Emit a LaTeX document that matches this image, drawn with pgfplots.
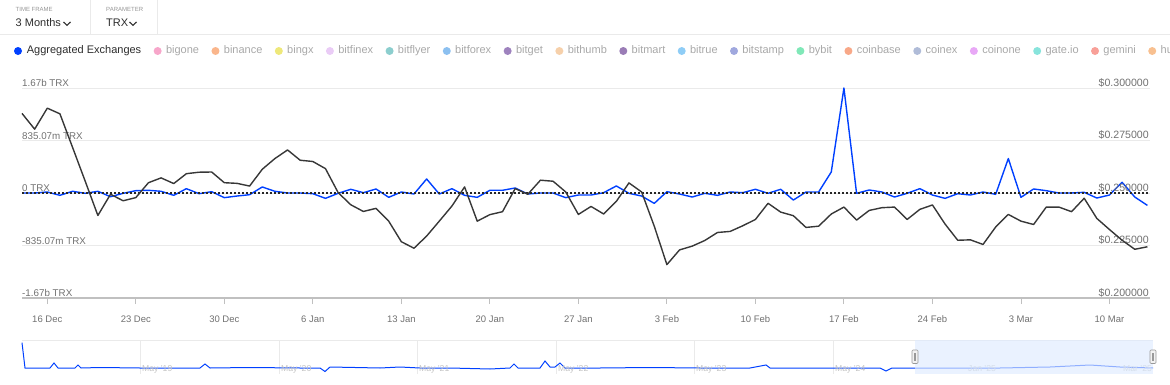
\documentclass[border=0pt]{standalone}
\usepackage{pgfplots}
\pgfplotsset{compat=1.18}
\usepackage{fontspec}
\setmainfont{Liberation Sans}
\usetikzlibrary{positioning}

\definecolor{bl}{RGB}{0,64,255}
\definecolor{pr}{RGB}{55,55,55}
\definecolor{grd}{RGB}{234,234,234}
\definecolor{axl}{RGB}{192,192,192}
\definecolor{lbl}{RGB}{112,112,112}
\definecolor{leg}{RGB}{168,168,168}
\definecolor{hdr}{RGB}{150,150,150}
\definecolor{dark}{RGB}{45,45,45}
\definecolor{navl}{RGB}{195,195,195}
\definecolor{sel}{RGB}{222,235,255}
\definecolor{c1}{RGB}{247,166,202}
\definecolor{c2}{RGB}{250,182,140}
\definecolor{c3}{RGB}{238,232,122}
\definecolor{c4}{RGB}{234,204,246}
\definecolor{c5}{RGB}{140,206,206}
\definecolor{c6}{RGB}{140,192,240}
\definecolor{c7}{RGB}{158,130,190}
\definecolor{c8}{RGB}{246,208,170}
\definecolor{c9}{RGB}{154,124,182}
\definecolor{c10}{RGB}{143,205,246}
\definecolor{c11}{RGB}{160,168,222}
\definecolor{c12}{RGB}{128,232,184}
\definecolor{c13}{RGB}{248,168,136}
\definecolor{c14}{RGB}{176,188,216}
\definecolor{c15}{RGB}{232,168,246}
\definecolor{c16}{RGB}{136,228,220}
\definecolor{c17}{RGB}{248,160,152}
\definecolor{c18}{RGB}{248,192,144}

\pgfplotstableread{
day flow
-2 0
-1 0
0 16
1 -37
2 27
3 -5
4 27
5 -59
6 -5
7 37
8 43
9 27
10 -37
11 69
12 -11
13 21
14 -74
15 -48
16 -27
17 96
18 27
19 0
20 0
21 -11
22 -85
23 -5
24 59
25 5
26 64
27 -69
28 16
29 -16
30 223
31 -16
32 69
33 -37
34 -69
35 43
36 43
37 80
38 -16
39 0
40 0
41 -74
42 -32
43 -32
44 5
45 112
46 -5
47 -48
48 -165
49 21
50 -16
51 -64
52 -5
53 -37
54 16
55 5
56 59
57 -5
58 59
59 -112
60 16
61 16
62 335
63 1670
64 -5
65 48
66 16
67 -64
68 -5
69 69
70 -32
71 -85
72 -11
73 -32
74 16
75 -21
76 548
77 -69
78 64
79 37
80 0
81 0
82 11
83 -80
84 -32
85 170
86 -64
87 -197
}\flowdata

\pgfplotstableread{
day price
-2 0.2879
-1 0.2804
0 0.2904
1 0.2877
2 0.2717
3 0.2556
4 0.2393
5 0.2494
6 0.2463
7 0.2478
8 0.2549
9 0.2572
10 0.2545
11 0.2592
12 0.2599
13 0.2600
14 0.2549
15 0.2546
16 0.2533
17 0.2613
18 0.2664
19 0.2705
20 0.2656
21 0.2650
22 0.2616
23 0.2502
24 0.2444
25 0.2412
26 0.2427
27 0.2366
28 0.2268
29 0.2237
30 0.2295
31 0.2366
32 0.2438
33 0.2529
34 0.2366
35 0.2397
36 0.2411
37 0.2521
38 0.2494
39 0.2561
40 0.2556
41 0.2505
42 0.2398
43 0.2436
44 0.2400
45 0.2460
46 0.2548
47 0.2505
48 0.2342
49 0.2159
50 0.2229
51 0.2247
52 0.2274
53 0.2312
54 0.2317
55 0.2344
56 0.2374
57 0.2451
58 0.2409
59 0.2392
60 0.2336
61 0.2342
62 0.2400
63 0.2433
64 0.2371
65 0.2417
66 0.2430
67 0.2433
68 0.2374
69 0.2422
70 0.2443
71 0.2352
72 0.2275
73 0.2277
74 0.2255
75 0.2338
76 0.2398
77 0.2366
78 0.2350
79 0.2433
80 0.2433
81 0.2411
82 0.2475
83 0.2379
84 0.2326
85 0.2275
86 0.2232
87 0.2244
}\pricedata

\pgfplotstableread{
pos val
22 31.3
25 6
50 6
54 11
58 6
75 6
78 9
81 6
100 6.5
140 6
200 6
205 10
210 6
250 6.5
300 6
320 6
325 2.5
330 7
380 6
400 7
420 6
450 6
490 5
510 6
514 10
518 6
540 6
545 13
550 7
555 7
560 11
565 6
600 6
650 6.5
700 6
750 6
766 9
770 6
820 6
880 6
886 3
892 6
915 6
1000 6
1050 7
1090 9
1120 7
1153 6
}\navdata

\begin{document}
\begin{tikzpicture}[x=1pt,y=1pt]
% ---------- header ----------
\draw[grd, line width=0.8pt] (0,349.7) -- (1170,349.7);
\draw[grd, line width=0.8pt] (90.7,384) -- (90.7,350);
\draw[grd, line width=0.8pt] (157.3,384) -- (157.3,350);
\node[anchor=base west, inner sep=0, font=\fontsize{6}{7}\selectfont, text=hdr] at (15.5,372.8) {TIME FRAME};
\node[anchor=base west, inner sep=0, font=\fontsize{11}{13}\selectfont, text=dark] at (15.5,357) {3 Months};
\draw[dark, line width=1.1pt] (63.5,362) -- (67,358.6) -- (70.5,362);
\node[anchor=base west, inner sep=0, font=\fontsize{6}{7}\selectfont, text=hdr] at (106,372.8) {PARAMETER};
\node[anchor=base west, inner sep=0, font=\fontsize{11}{13}\selectfont, text=dark] at (106,357) {TRX};
\draw[dark, line width=1.1pt] (129.5,362) -- (133,358.6) -- (136.5,362);

% ---------- legend ----------
\tikzset{ldot/.style={circle, minimum size=8pt, inner sep=0pt},
         ltext/.style={inner sep=0pt, text height=8pt, text depth=2.4pt, font=\fontsize{11}{13}\selectfont, text=leg}}
\node[ldot, fill=bl] (d0) at (18,333) {};
\node[ltext, text=dark, right=4.5pt of d0] (t0) {Aggregated Exchanges};
\node[ldot, fill=c1, right=12pt of t0] (d1) {};
\node[ltext, right=4pt of d1] (t1) {bigone};
\node[ldot, fill=c2, right=12pt of t1] (d2) {};
\node[ltext, right=4pt of d2] (t2) {binance};
\node[ldot, fill=c3, right=12pt of t2] (d3) {};
\node[ltext, right=4pt of d3] (t3) {bingx};
\node[ldot, fill=c4, right=12pt of t3] (d4) {};
\node[ltext, right=4pt of d4] (t4) {bitfinex};
\node[ldot, fill=c5, right=12pt of t4] (d5) {};
\node[ltext, right=4pt of d5] (t5) {bitflyer};
\node[ldot, fill=c6, right=12pt of t5] (d6) {};
\node[ltext, right=4pt of d6] (t6) {bitforex};
\node[ldot, fill=c7, right=12pt of t6] (d7) {};
\node[ltext, right=4pt of d7] (t7) {bitget};
\node[ldot, fill=c8, right=12pt of t7] (d8) {};
\node[ltext, right=4pt of d8] (t8) {bithumb};
\node[ldot, fill=c9, right=12pt of t8] (d9) {};
\node[ltext, right=4pt of d9] (t9) {bitmart};
\node[ldot, fill=c10, right=12pt of t9] (d10) {};
\node[ltext, right=4pt of d10] (t10) {bitrue};
\node[ldot, fill=c11, right=12pt of t10] (d11) {};
\node[ltext, right=4pt of d11] (t11) {bitstamp};
\node[ldot, fill=c12, right=12pt of t11] (d12) {};
\node[ltext, right=4pt of d12] (t12) {bybit};
\node[ldot, fill=c13, right=12pt of t12] (d13) {};
\node[ltext, right=4pt of d13] (t13) {coinbase};
\node[ldot, fill=c14, right=12pt of t13] (d14) {};
\node[ltext, right=4pt of d14] (t14) {coinex};
\node[ldot, fill=c15, right=12pt of t14] (d15) {};
\node[ltext, right=4pt of d15] (t15) {coinone};
\node[ldot, fill=c16, right=12pt of t15] (d16) {};
\node[ltext, right=4pt of d16] (t16) {gate.io};
\node[ldot, fill=c17, right=12pt of t16] (d17) {};
\node[ltext, right=4pt of d17] (t17) {gemini};
\node[ldot, fill=c18, right=12pt of t17] (d18) {};
\node[ltext, right=4pt of d18] (t18) {huobi};

% ---------- main axis (flows) ----------
\begin{axis}[
  at={(22pt,86pt)}, anchor=south west, scale only axis,
  width=1128pt, height=210pt,
  xmin=-2, xmax=87.2, ymin=-1670.14, ymax=1670.14,
  axis line style={draw=none},
  tick align=outside, major tick length=6pt,
  xtick={0,7,...,84},
  xticklabels={16 Dec,23 Dec,30 Dec,6 Jan,13 Jan,20 Jan,27 Jan,3 Feb,10 Feb,17 Feb,24 Feb,3 Mar,10 Mar},
  xtick pos=left, ytick pos=left,
  x tick style={draw=axl, line width=0.9pt},
  y tick style={draw=none},
  ytick={-1670.14,-835.07,0,835.07,1670.14},
  yticklabels={-1.67b TRX,-835.07m TRX,0 TRX,835.07m TRX,1.67b TRX},
  ymajorgrids, major grid style={draw=grd, line width=1pt},
  yticklabel style={anchor=south west, inner sep=1pt, xshift=5pt, font=\fontsize{9.8}{11}\selectfont, text=lbl},
  xticklabel style={anchor=center, yshift=-15pt, font=\fontsize{9.5}{11}\selectfont, text=lbl},
  clip=false,
]
\draw[axl, line width=1.2pt] (rel axis cs:0,0) -- (rel axis cs:1,0);
\addplot[bl, line width=1.4pt, line join=round] table[x=day, y=flow] {\flowdata};
\addplot[black!85, line width=1.9pt, dash pattern=on 1.9pt off 2.1pt] coordinates {(-2,0) (87.2,0)};
\end{axis}

% ---------- price axis ----------
\begin{axis}[
  at={(22pt,86pt)}, anchor=south west, scale only axis,
  width=1128pt, height=210pt,
  xmin=-2, xmax=87.2, ymin=0.2, ymax=0.3,
  axis line style={draw=none},
  xtick=\empty,
  ytick pos=right, y tick style={draw=none}, major tick length=0pt,
  ytick={0.2,0.225,0.25,0.275,0.3},
  yticklabels={\$0.200000,\$0.225000,\$0.250000,\$0.275000,\$0.300000},
  yticklabel style={anchor=south east, inner sep=1pt, font=\fontsize{10.6}{12}\selectfont, text=lbl},
  clip=false,
]
\addplot[pr, line width=1.4pt, line join=round] table[x=day, y=price] {\pricedata};
\end{axis}

% ---------- navigator ----------
\draw[grd, line width=0.8pt] (22,44) -- (1153,44);
\foreach \gx in {140,279,417,556,694,833} {\draw[grd, line width=0.8pt] (\gx,44) -- (\gx,10);}
\begin{axis}[
  at={(22pt,10pt)}, anchor=south west, scale only axis,
  width=1131pt, height=34pt,
  xmin=22, xmax=1153, ymin=0, ymax=34,
  hide axis, clip=false,
]
\addplot[bl, line width=1pt] table[x=pos, y=val] {\navdata};
\end{axis}
\tikzset{navlab/.style={anchor=west, inner sep=0pt, font=\fontsize{8.6}{10}\selectfont, text=navl}}
\node[navlab] at (142,15) {May '19};
\node[navlab] at (281,15) {May '20};
\node[navlab] at (419,15) {May '21};
\node[navlab] at (558,15) {May '22};
\node[navlab] at (696,15) {May '23};
\node[navlab] at (835,15) {May '24};
\node[navlab] at (968,15) {Jan '25};
\node[navlab] at (1123,15) {Mar '25};
\fill[sel, fill opacity=0.65] (915,10) rectangle (1153,44);
\draw[draw=gray!80, fill=gray!10, line width=0.6pt, rounded corners=1pt] (912,20.5) rectangle (918,34);
\draw[gray!80, line width=0.5pt] (914.3,23.5) -- (914.3,31) (915.7,23.5) -- (915.7,31);
\draw[draw=gray!80, fill=gray!10, line width=0.6pt, rounded corners=1pt] (1150,20.5) rectangle (1156,34);
\draw[gray!80, line width=0.5pt] (1152.3,23.5) -- (1152.3,31) (1153.7,23.5) -- (1153.7,31);

\pgfresetboundingbox
\useasboundingbox (0,0) rectangle (1170,384);
\end{tikzpicture}
\end{document}
